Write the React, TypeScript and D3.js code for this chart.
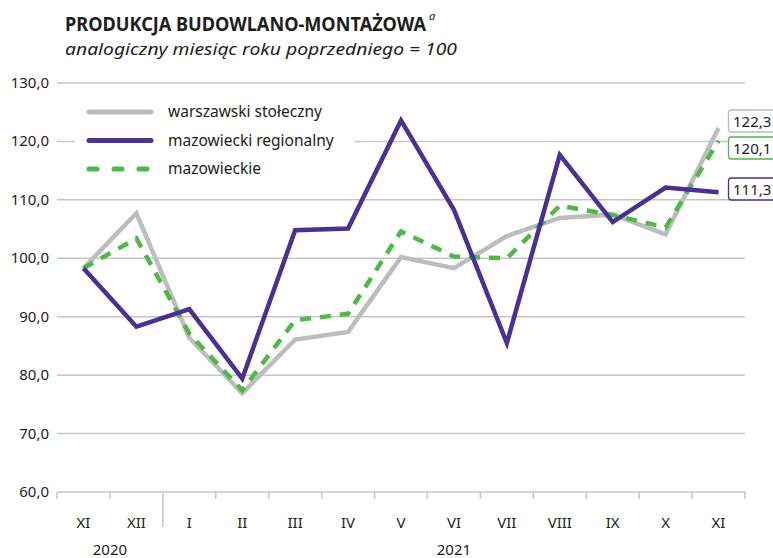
import React from 'react';
import * as d3 from 'd3';

const months = ['XI', 'XII', 'I', 'II', 'III', 'IV', 'V', 'VI', 'VII', 'VIII', 'IX', 'X', 'XI'];
const years = [
  { label: '2020', from: 0, to: 1 },
  { label: '2021', from: 2, to: 12 },
];
const warszawski = [98.3, 107.7, 86.4, 76.9, 86.1, 87.4, 100.2, 98.3, 103.8, 106.9, 107.5, 104.1, 122.3];
const regionalny = [98.3, 88.3, 91.3, 79.4, 104.8, 105.1, 123.6, 108.3, 85.5, 117.7, 106.2, 112.1, 111.3];
const mazowieckie = [98.3, 103.4, 87.1, 77.4, 89.4, 90.5, 104.6, 100.3, 100.0, 109.0, 107.4, 105.3, 120.1];
const yTicks = [60, 70, 80, 90, 100, 110, 120, 130];

const series = [
  { name: 'warszawski stołeczny', values: warszawski, color: '#bbbdbf', dash: null },
  { name: 'mazowiecki regionalny', values: regionalny, color: '#4a2f95', dash: null },
  { name: 'mazowieckie', values: mazowieckie, color: '#4fb848', dash: '11 9' },
];
const drawOrder = [0, 2, 1];
// vertical centre of each end-value box, per series
const endLabelY = [121, 189, 148];

const W = 773;
const H = 558;
const FONT = "'Noto Sans', 'Open Sans', sans-serif";

export default function App() {
  const x = d3.scaleBand<number>().domain(d3.range(months.length)).range([57, 745]).padding(0);
  const y = d3.scaleLinear().domain([60, 130]).range([492, 83]);
  const cx = (i: number) => (x(i) as number) + x.bandwidth() / 2;
  const line = d3.line<number>().x((_, i) => cx(i)).y((d) => y(d));
  const fmt = (v: number) => d3.format('.1f')(v).replace('.', ',');

  return (
    <svg width={W} height={H} style={{ position: 'absolute', left: 0, top: 0 }} fontFamily={FONT}>
      <rect width={W} height={H} fill="#fff" />
      <text x={65} y={31} fill="#1d1d1b">
        <tspan fontSize={20} fontWeight={700} textLength={361} lengthAdjust="spacingAndGlyphs">
          PRODUKCJA BUDOWLANO-MONTAŻOWA
        </tspan>
        <tspan dx={3} dy={-11} fontSize={11} fontStyle="italic">a</tspan>
      </text>
      <text x={65} y={55} fontSize={17} fontStyle="italic" fill="#1d1d1b" textLength={392} lengthAdjust="spacingAndGlyphs">
        analogiczny miesiąc roku poprzedniego = 100
      </text>

      {yTicks.map((t) => (
        <g key={t}>
          <line x1={57} x2={745} y1={y(t)} y2={y(t)} stroke="#c6c6c6" strokeWidth={1.5} />
          <text x={49} y={y(t) + 5} textAnchor="end" fontSize={15} fill="#1d1d1b">{fmt(t)}</text>
        </g>
      ))}

      {d3.range(months.length + 1).map((i) => {
        const xp = i < months.length ? (x(i) as number) : 745;
        const isSep = i === 2;
        return <line key={i} x1={xp} x2={xp} y1={492} y2={isSep ? 527 : 499} stroke="#c6c6c6" strokeWidth={1.5} />;
      })}

      {months.map((m, i) => (
        <text key={i} x={cx(i)} y={528} textAnchor="middle" fontSize={15} fill="#1d1d1b">{m}</text>
      ))}
      {years.map((yr) => (
        <text key={yr.label} x={(cx(yr.from) + cx(yr.to)) / 2} y={555} textAnchor="middle" fontSize={15} fill="#1d1d1b">
          {yr.label}
        </text>
      ))}

      <rect x={75} y={95} width={280} height={88} fill="#fff" />
      {series.map((s, i) => (
        <g key={s.name}>
          <line
            x1={89} x2={151} y1={112 + i * 28.5} y2={112 + i * 28.5}
            stroke={s.color} strokeWidth={5} strokeLinecap="round"
            strokeDasharray={s.dash ? '8 17' : undefined}
          />
          <text x={168} y={117 + i * 28.5} fontSize={15.5} fill="#1d1d1b">{s.name}</text>
        </g>
      ))}

      {drawOrder.map((k) => {
        const s = series[k];
        return (
          <path
            key={s.name}
            d={line(s.values) || ''}
            fill="none"
            stroke={s.color}
            strokeWidth={4.5}
            strokeLinejoin="miter"
            strokeDasharray={s.dash || undefined}
          />
        );
      })}

      {series.map((s, i) => (
        <g key={s.name}>
          <rect x={728.5} y={endLabelY[i] - 11} width={60} height={22} rx={3} fill="#fff" stroke={s.color} strokeWidth={1.3} />
          <text x={733} y={endLabelY[i] + 5.5} fontSize={15} fill="#1d1d1b">{fmt(s.values[s.values.length - 1])}</text>
        </g>
      ))}
    </svg>
  );
}
